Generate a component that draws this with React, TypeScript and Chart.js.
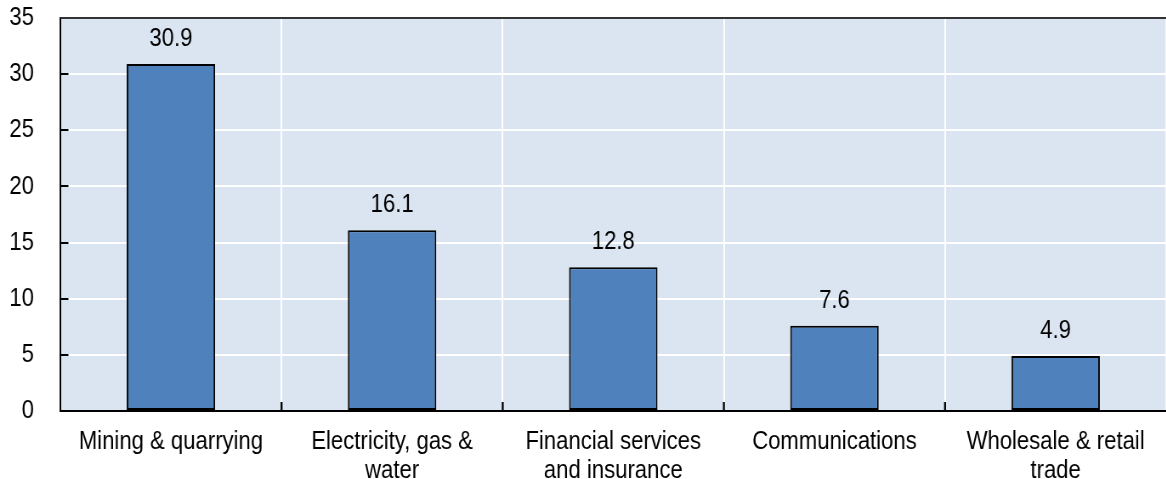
import React, { useEffect, useRef } from "react";
import { Chart, registerables } from "chart.js";

Chart.register(...registerables);

const categories: (string | string[])[] = [
  "Mining & quarrying",
  ["Electricity, gas &", "water"],
  ["Financial services", "and insurance"],
  "Communications",
  ["Wholesale & retail", "trade"],
];
const values: number[] = [30.9, 16.1, 12.8, 7.6, 4.9];
const yTicks: number[] = [0, 5, 10, 15, 20, 25, 30, 35];

const FONT = "'Liberation Sans', Arial, sans-serif";
const FS = 26;
// the reference uses a narrow typeface; the canvas is drawn wider and squeezed horizontally
const SX = 0.85;
const VIEW_W = 1166;
const VIEW_H = 479;
const CANVAS_W = Math.round(VIEW_W / SX);

const decorPlugin = {
  id: "decor",
  afterDatasetsDraw(chart: any) {
    const { ctx, chartArea, scales } = chart;
    const y = scales.y;
    ctx.save();
    // top border
    ctx.strokeStyle = "#333333";
    ctx.lineWidth = 2;
    ctx.beginPath();
    ctx.moveTo(chartArea.left, chartArea.top);
    ctx.lineTo(chartArea.right, chartArea.top);
    ctx.stroke();
    // y tick marks inside
    ctx.strokeStyle = "#000";
    ctx.lineWidth = 2;
    yTicks.forEach((v) => {
      if (v === 0 || v === 35) return;
      const py = Math.round(y.getPixelForValue(v));
      ctx.beginPath();
      ctx.moveTo(chartArea.left, py);
      ctx.lineTo(chartArea.left + 9.5, py);
      ctx.stroke();
    });
    // x tick marks at category boundaries
    const n = categories.length;
    const w = (chartArea.right - chartArea.left) / n;
    ctx.lineWidth = 2 / SX;
    for (let i = 1; i < n; i++) {
      const px = chartArea.left + w * i;
      ctx.beginPath();
      ctx.moveTo(px, chartArea.bottom);
      ctx.lineTo(px, chartArea.bottom - 9);
      ctx.stroke();
    }
    // value labels
    ctx.fillStyle = "#000";
    ctx.font = `${FS}px ${FONT}`;
    ctx.textAlign = "center";
    ctx.textBaseline = "alphabetic";
    const meta = chart.getDatasetMeta(0);
    meta.data.forEach((bar: any, i: number) => {
      ctx.fillText(values[i].toFixed(1), bar.x, bar.y - 18);
    });
    ctx.restore();
  },
};

const bgPlugin = {
  id: "bg",
  beforeDraw(chart: any) {
    const { ctx, chartArea } = chart;
    ctx.save();
    ctx.fillStyle = "#dbe5f1";
    ctx.fillRect(
      chartArea.left,
      chartArea.top,
      chartArea.right - chartArea.left,
      chartArea.bottom - chartArea.top
    );
    ctx.restore();
  },
};

export default function App() {
  const ref = useRef<HTMLCanvasElement | null>(null);
  useEffect(() => {
    if (!ref.current) return;
    const chart = new Chart(ref.current, {
      type: "bar",
      data: {
        labels: categories,
        datasets: [
          {
            data: values,
            backgroundColor: "#4f81bd",
            borderColor: "#000000",
            borderWidth: 2,
            borderSkipped: false,
            categoryPercentage: 1,
            barPercentage: 0.4,
          },
        ],
      },
      options: {
        animation: false,
        responsive: false,
        maintainAspectRatio: false,
        devicePixelRatio: 1,
        layout: { padding: { top: 18, right: 0, left: 0, bottom: 0 } },
        plugins: {
          legend: { display: false },
          tooltip: { enabled: false },
        },
        scales: {
          x: {
            offset: true,
            afterFit: (s: any) => {
              s.height = 68;
            },
            grid: {
              offset: true,
              color: "#ffffff",
              lineWidth: 2,
              drawTicks: true,
              tickLength: 17,
              tickColor: "rgba(0,0,0,0)",
            },
            border: { display: true, color: "#000000", width: 2 },
            ticks: {
              color: "#000",
              font: { family: FONT, size: FS, lineHeight: 1.1 },
              padding: 0,
              maxRotation: 0,
              autoSkip: false,
            },
          },
          y: {
            min: 0,
            max: 35,
            afterFit: (s: any) => {
              s.width = Math.round(60 / SX);
            },
            afterBuildTicks: (s: any) => {
              s.ticks = yTicks.map((v) => ({ value: v }));
            },
            grid: {
              color: "#ffffff",
              lineWidth: 2,
              drawTicks: true,
              tickLength: 31,
              tickColor: "rgba(0,0,0,0)",
            },
            border: { display: true, color: "#000000", width: 2 },
            ticks: {
              color: "#000",
              font: { family: FONT, size: FS },
              padding: 0,
            },
          },
        },
      },
      plugins: [bgPlugin, decorPlugin],
    });
    return () => chart.destroy();
  }, []);
  return (
    <div
      style={{
        position: "fixed",
        left: 0,
        top: 0,
        width: VIEW_W,
        height: VIEW_H,
        overflow: "hidden",
        background: "#fff",
      }}
    >
      <canvas
        ref={ref}
        width={CANVAS_W}
        height={VIEW_H}
        style={{
          display: "block",
          width: CANVAS_W + "px",
          height: VIEW_H + "px",
          transform: `scaleX(${SX})`,
          transformOrigin: "0 0",
        }}
      />
    </div>
  );
}
